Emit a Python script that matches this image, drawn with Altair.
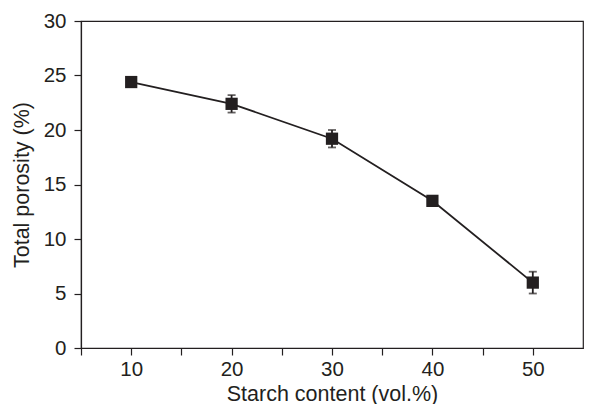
import altair as alt
import pandas as pd

starch = [10, 20, 30, 40, 50]
porosity = [24.4, 22.4, 19.2, 13.5, 6.0]
err = [0.45, 0.8, 0.8, 0.45, 1.0]

df = pd.DataFrame({
    "starch": starch,
    "porosity": porosity,
    "lo": [p - e for p, e in zip(porosity, err)],
    "hi": [p + e for p, e in zip(porosity, err)],
})

C = "#231f20"
FONT = "Liberation Sans"

x = alt.X("starch:Q", scale=alt.Scale(domain=[5, 55], nice=False, zero=False),
          axis=alt.Axis(title="Starch content (vol.%)", values=[5, 10, 15, 20, 25, 30, 35, 40, 45, 50],
                        labelExpr="datum.value % 10 == 0 ? datum.label : ''",
                        labelPadding=4, titleBaseline="alphabetic", titleY=52))
y = alt.Y("porosity:Q", scale=alt.Scale(domain=[0, 30], nice=False),
          axis=alt.Axis(title="Total porosity (%)", values=[0, 2.5, 5, 7.5, 10, 12.5, 15, 17.5, 20, 22.5, 25, 27.5, 30],
                        labelExpr="datum.value % 5 == 0 ? datum.label : ''",
                        labelPadding=8, titlePadding=10))

base = alt.Chart(df)
line = base.mark_line(color=C, strokeWidth=1.8).encode(x=x, y=y)
rules = base.mark_rule(color=C, strokeWidth=1.8).encode(x="starch:Q", y="lo:Q", y2="hi:Q")
caps_lo = base.mark_tick(color=C, size=8, thickness=1.8, orient="horizontal").encode(x="starch:Q", y="lo:Q")
caps_hi = base.mark_tick(color=C, size=8, thickness=1.8, orient="horizontal").encode(x="starch:Q", y="hi:Q")
pts = base.mark_square(color=C, size=150, opacity=1).encode(x="starch:Q", y="porosity:Q")

chart = alt.layer(line, rules, caps_lo, caps_hi, pts).properties(
    width=502, height=327,
    background="white",
    autosize=alt.AutoSizeParams(type="none"),
    padding={"left": 73, "top": 13, "right": 8, "bottom": 56},
).configure_view(stroke=C, strokeWidth=1.2).configure_axis(
    grid=False, tickSize=7, tickColor=C, domainColor=C, labelColor=C,
    titleColor=C, labelFontSize=20.5, titleFontSize=21.5, labelFont=FONT,
    titleFont=FONT, titleFontWeight="normal", domainWidth=1.2, tickWidth=1.2,
)

chart.save("out.html", embed_options={"renderer": "svg", "actions": False})
